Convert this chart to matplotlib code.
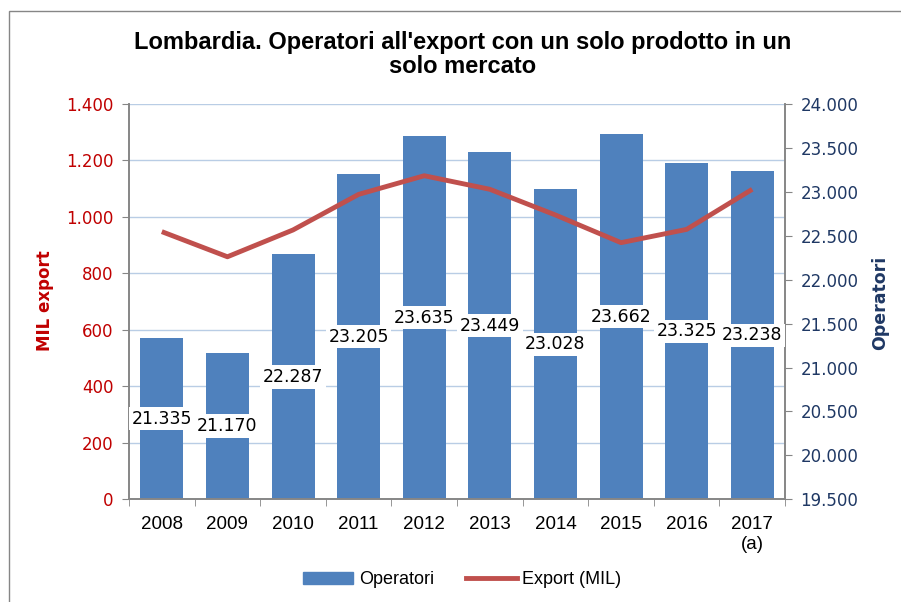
import matplotlib
matplotlib.use("Agg")
import matplotlib.pyplot as plt
from matplotlib.patches import Patch, Rectangle
from matplotlib.lines import Line2D
import numpy as np

# dati
anni = ["2008", "2009", "2010", "2011", "2012", "2013", "2014", "2015", "2016", "2017\n(a)"]
operatori = [21335, 21170, 22287, 23205, 23635, 23449, 23028, 23662, 23325, 23238]
export_mil = [948, 859, 954, 1080, 1146, 1098, 1007, 909, 956, 1098]
etichette = ["21.335", "21.170", "22.287", "23.205", "23.635", "23.449", "23.028", "23.662", "23.325", "23.238"]

tick_sx = [0, 200, 400, 600, 800, 1000, 1200, 1400]
tick_dx = [19500, 20000, 20500, 21000, 21500, 22000, 22500, 23000, 23500, 24000]

BLU = "#4F81BD"
ROSSO = "#C0504D"
ROSSO_TXT = "#C00000"
NAVY = "#1F3864"
GRIGIO = "#868686"
GRIGLIA = "#B9CDE5"


def fmt(v):
    return f"{v:,.0f}".replace(",", ".")


fig = plt.figure(figsize=(9.01, 6.02), dpi=100)
ax2 = fig.add_axes([0.1432, 0.1706, 0.7281, 0.6566])  # barre (asse destro), dietro
ax = ax2.twinx()  # linea export (asse sinistro), davanti
ax.set_zorder(ax2.get_zorder() + 1)
ax.patch.set_visible(False)

x = np.arange(len(anni))

# asse destro: operatori
ax2.set_ylim(19500, 24000)
ax2.set_xlim(-0.5, len(anni) - 0.5)
for t in tick_sx:
    ax2.axhline(19500 + t / 1400 * 4500, color=GRIGLIA, lw=1, zorder=0)
ax2.bar(x, operatori, width=0.655, bottom=0, color=BLU, zorder=2)
ax2.yaxis.tick_right()
ax2.set_yticks(tick_dx)
ax2.set_yticklabels([fmt(v) for v in tick_dx], color=NAVY, fontsize=12)
ax2.tick_params(axis="y", direction="out", length=5, color=GRIGIO, pad=6)

# asse sinistro: export
ax.set_ylim(0, 1400)
ax.plot(x, export_mil, color=ROSSO, lw=3.5, solid_capstyle="butt", zorder=3)
ax.yaxis.tick_left()
ax.set_yticks(tick_sx)
ax.set_yticklabels([fmt(v) for v in tick_sx], color=ROSSO_TXT, fontsize=12)
ax.tick_params(axis="y", direction="out", length=5, color=GRIGIO, pad=6)

for a in (ax, ax2):
    a.spines["top"].set_visible(False)
    for s in ("left", "right", "bottom"):
        a.spines[s].set_color(GRIGIO)
        a.spines[s].set_linewidth(1.2)

# asse x
ax2.set_xticks(x)
ax2.set_xticklabels(anni, fontsize=13.5, family="Liberation Sans", linespacing=1.2, va="top")
ax2.set_xticks(np.arange(-0.5, len(anni)), minor=True)
ax2.tick_params(axis="x", which="major", length=0, pad=12)
ax2.tick_params(axis="x", which="minor", length=5, color=GRIGIO, direction="out")

# etichette dati
for xi, v, lab in zip(x, operatori, etichette):
    ax.text(xi, (v + 19500) / 2, lab, transform=ax2.transData, ha="center", va="center",
            fontsize=12.5, color="black", zorder=10,
            bbox=dict(boxstyle="square,pad=0.15", fc="white", ec="none"))

# titoli assi
fig.text(0.05, 0.50, "MIL export", rotation=90, ha="center", va="center",
         color=ROSSO_TXT, fontsize=12, fontweight="bold")
fig.text(0.977, 0.497, "Operatori", rotation=90, ha="center", va="center",
         color=NAVY, fontsize=12.5, fontweight="bold")

fig.text(0.513, 0.9095, "Lombardia. Operatori all'export con un solo prodotto in un\nsolo mercato",
         ha="center", va="center", fontsize=17, fontweight="bold",
         family="Liberation Sans", linespacing=1.05)

# legenda
handles = [Patch(color=BLU, label="Operatori"),
           Line2D([0], [0], color=ROSSO, lw=3.5, label="Export (MIL)")]
fig.legend(handles=handles, loc="center", bbox_to_anchor=(0.513, 0.037), ncol=2,
           frameon=False, prop={"family": "Liberation Sans", "size": 13},
           handlelength=2.8, handleheight=0.6, columnspacing=1.8, handletextpad=0.3)

# cornice
fig.patches.append(Rectangle((9 / 901, -0.1), 1.2, 1.1 - 11 / 602, transform=fig.transFigure,
                             fill=False, ec=GRIGIO, lw=1))

fig.savefig("out.png", dpi=100)
